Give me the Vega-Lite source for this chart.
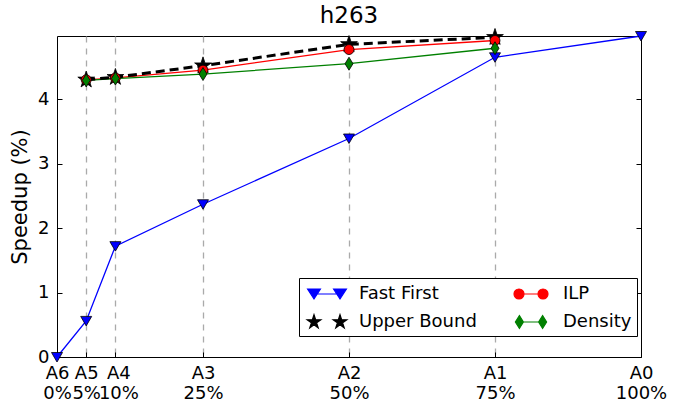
{
  "$schema": "https://vega.github.io/schema/vega-lite/v6.json",
  "width": 584,
  "height": 321,
  "autosize": {"type": "none"},
  "padding": {"left": 57, "top": 36, "right": 41, "bottom": 45},
  "background": "white",
  "title": {"text": "h263", "fontSize": 23, "font": "DejaVu Sans", "fontWeight": "normal", "color": "black", "offset": -1},
  "config": {
    "font": "DejaVu Sans",
    "view": {"stroke": "black", "strokeWidth": 1}
  },
  "data": {"values": [
    {"series": "Fast First", "pct": 0, "speedup": 0},
    {"series": "Fast First", "pct": 5, "speedup": 0.56},
    {"series": "Fast First", "pct": 10, "speedup": 1.72},
    {"series": "Fast First", "pct": 25, "speedup": 2.37},
    {"series": "Fast First", "pct": 50, "speedup": 3.39},
    {"series": "Fast First", "pct": 75, "speedup": 4.65},
    {"series": "Fast First", "pct": 100, "speedup": 4.98},
    {"series": "Upper Bound", "pct": 5, "speedup": 4.30},
    {"series": "Upper Bound", "pct": 10, "speedup": 4.34},
    {"series": "Upper Bound", "pct": 25, "speedup": 4.52},
    {"series": "Upper Bound", "pct": 50, "speedup": 4.85},
    {"series": "Upper Bound", "pct": 75, "speedup": 4.96},
    {"series": "ILP", "pct": 5, "speedup": 4.30},
    {"series": "ILP", "pct": 10, "speedup": 4.33},
    {"series": "ILP", "pct": 25, "speedup": 4.45},
    {"series": "ILP", "pct": 50, "speedup": 4.77},
    {"series": "ILP", "pct": 75, "speedup": 4.91},
    {"series": "Density", "pct": 5, "speedup": 4.29},
    {"series": "Density", "pct": 10, "speedup": 4.32},
    {"series": "Density", "pct": 25, "speedup": 4.39},
    {"series": "Density", "pct": 50, "speedup": 4.55},
    {"series": "Density", "pct": 75, "speedup": 4.79}
  ]},
  "resolve": {"axis": {"y": "independent"}},
  "layer": [
    {
      "transform": [{"filter": "datum.series != 'Upper Bound'"}],
      "mark": {"type": "line", "strokeWidth": 1.3},
      "encoding": {
        "x": {"field": "pct", "type": "quantitative", "scale": {"domain": [0, 100], "nice": false},
          "axis": {"values": [0, 5, 10, 25, 50, 75, 100],
            "labelExpr": "datum.value == 0 ? ['A6','0%'] : datum.value == 5 ? ['A5','5%'] : datum.value == 10 ? ['A4','10%'] : datum.value == 25 ? ['A3','25%'] : datum.value == 50 ? ['A2','50%'] : datum.value == 75 ? ['A1','75%'] : ['A0','100%']",
            "labelOverlap": false, "labelFlush": false,
            "labelFontSize": 18, "labelColor": "black", "labelLineHeight": 20, "labelPadding": 7,
            "labelOffset": {"condition": {"test": "datum.value == 10", "value": 3}, "value": 0},
            "offset": -5, "ticks": true, "tickSize": 5, "tickColor": "black", "domain": false,
            "grid": true,
            "gridColor": {"condition": {"test": "datum.value == 0 || datum.value == 100", "value": "transparent"}, "value": "#aaaaaa"},
            "gridDash": [6, 6], "gridWidth": 1.3, "title": null}},
        "y": {"field": "speedup", "type": "quantitative", "scale": {"domain": [0, 4.98], "nice": false},
          "axis": {"orient": "left", "values": [0, 1, 2, 3, 4], "labelFontSize": 18, "labelColor": "black", "labelPadding": 8,
            "offset": -5, "tickSize": 5, "tickColor": "black", "domain": false, "grid": false,
            "title": "Speedup (%)", "titleFontSize": 21, "titleFontWeight": "normal", "titleColor": "black", "titlePadding": 7}},
        "stroke": {"field": "series", "type": "nominal",
          "scale": {"domain": ["Density", "Fast First", "Upper Bound", "ILP"], "range": ["#008000", "#0000ff", "#000000", "#ff0000"]},
          "legend": null}
      }
    },
    {
      "transform": [{"filter": "datum.series == 'Upper Bound'"}],
      "mark": {"type": "line", "stroke": "black", "strokeWidth": 3, "strokeDash": [9, 5]},
      "encoding": {
        "x": {"field": "pct", "type": "quantitative"},
        "y": {"field": "speedup", "type": "quantitative", "axis": null}
      }
    },
    {
      "mark": {"type": "point", "filled": true, "stroke": "black", "strokeWidth": 0.8, "size": 400, "opacity": 1},
      "encoding": {
        "x": {"field": "pct", "type": "quantitative"},
        "y": {"field": "speedup", "type": "quantitative",
          "axis": {"orient": "right", "values": [0, 1, 2, 3, 4], "labels": false, "offset": -5, "tickSize": 5, "tickColor": "black", "domain": false, "grid": false, "title": null}},
        "fill": {"field": "series", "type": "nominal",
          "scale": {"domain": ["Density", "Fast First", "Upper Bound", "ILP"], "range": ["#008000", "#0000ff", "#000000", "#ff0000"]},
          "legend": null},
        "shape": {"field": "series", "type": "nominal",
          "scale": {"domain": ["Density", "Fast First", "Upper Bound", "ILP"],
            "range": [
              "M0,-0.65 L0.4,0 L0,0.65 L-0.4,0 Z",
              "M-0.55,-0.45 L0.55,-0.45 L0,0.5 Z",
              "M0,-0.88 L0.198,-0.272 L0.837,-0.272 L0.319,0.104 L0.517,0.712 L0,0.336 L-0.517,0.712 L-0.319,0.104 L-0.837,-0.272 L-0.198,-0.272 Z",
              "M-0.5,0 A0.5,0.5 0 1,0 0.5,0 A0.5,0.5 0 1,0 -0.5,0 Z"
            ]},
          "legend": null}
      }
    },
    {
      "transform": [{"filter": "false"}],
      "mark": {"type": "point", "filled": true, "size": 400, "opacity": 1},
      "encoding": {
        "x": {"field": "pct", "type": "quantitative"},
        "y": {"field": "speedup", "type": "quantitative", "axis": null},
        "color": {"field": "series", "type": "nominal",
          "scale": {"domain": ["Fast First", "Upper Bound", "ILP", "Density"], "range": ["#0000ff", "#000000", "#ff0000", "#008000"]},
          "legend": {"orient": "none", "legendX": 242, "legendY": 242, "columns": 2, "title": null,
            "strokeColor": "black", "fillColor": "white", "padding": 5, "cornerRadius": 0,
            "labelFontSize": 18, "labelColor": "black", "labelOffset": 21, "columnPadding": 31, "rowPadding": 8,
            "symbolSize": 400, "symbolOffset": 12, "symbolStrokeWidth": 1.2,
            "symbolStrokeColor": {"expr": "datum.value == 'Fast First' ? '#0000ff' : datum.value == 'ILP' ? '#ff0000' : datum.value == 'Upper Bound' ? '#000000' : '#008000'"},
            "symbolType": {"expr": "datum.value == 'Fast First' ? 'M-1.94,-0.5 L-0.66,-0.5 L-1.3,0.5 Z M0.66,-0.5 L1.94,-0.5 L1.3,0.5 Z M-1.3,0 L1.3,0' : datum.value == 'ILP' ? 'M-1.7,0 A0.5,0.5 0 1,0 -0.7,0 A0.5,0.5 0 1,0 -1.7,0 Z M0.7,0 A0.5,0.5 0 1,0 1.7,0 A0.5,0.5 0 1,0 0.7,0 Z M-0.7,0 L0.7,0' : datum.value == 'Upper Bound' ? 'M-1.3,-0.72 L-1.138,-0.222 L-0.616,-0.222 L-1.038,0.084 L-0.876,0.582 L-1.3,0.276 L-1.724,0.582 L-1.562,0.084 L-1.984,-0.222 L-1.462,-0.222 Z M1.3,-0.72 L1.462,-0.222 L1.984,-0.222 L1.562,0.084 L1.724,0.582 L1.3,0.276 L0.876,0.582 L1.038,0.084 L0.616,-0.222 L1.138,-0.222 Z' : 'M-1.16,-0.64 L-0.76,0 L-1.16,0.64 L-1.56,0 Z M1.16,-0.64 L1.56,0 L1.16,0.64 L0.76,0 Z M-0.76,0 L0.76,0'"}}}
      }
    }
  ]
}
